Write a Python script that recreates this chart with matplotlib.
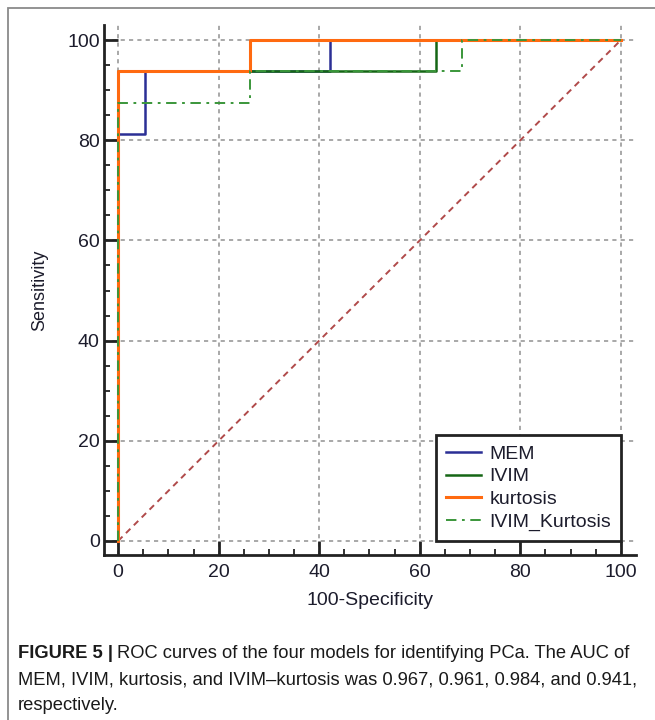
import numpy as np
from matplotlib import pyplot as plt
from matplotlib.patches import Rectangle

# ROC curve vertices (100-Specificity, Sensitivity)
mem_fpr = [0, 0, 5.26, 5.26, 42.1, 42.1, 100]
mem_tpr = [0, 81.25, 81.25, 93.75, 93.75, 100, 100]

ivim_fpr = [0, 0, 63.2, 63.2, 100]
ivim_tpr = [0, 93.75, 93.75, 100, 100]

kurt_fpr = [0, 0, 26.3, 26.3, 100]
kurt_tpr = [0, 93.75, 93.75, 100, 100]

ivk_fpr = [0, 0, 26.3, 26.3, 68.4, 68.4, 100]
ivk_tpr = [0, 87.5, 87.5, 93.75, 93.75, 100, 100]

ref_x = [0, 100]
ref_y = [0, 100]

ticks = [0, 20, 40, 60, 80, 100]
labels = ['MEM', 'IVIM', 'kurtosis', 'IVIM_Kurtosis']

plt.rcParams['font.family'] = ['Liberation Sans', 'DejaVu Sans']
plt.rcParams['lines.scale_dashes'] = False

fig = plt.figure(figsize=(6.55, 7.2), dpi=100)

# outer frame (only top/left visible)
fig.patches.append(Rectangle((8 / 655, -0.1), 1.2, (720 - 8) / 720 + 0.1,
                             transform=fig.transFigure, fill=False,
                             edgecolor='#8a8a8a', linewidth=1.3))

ax = fig.add_axes([104 / 655, 1 - 555 / 720, (636 - 104) / 655, (555 - 25) / 720])
ax.set_xlim(-2.8, 103)
ax.set_ylim(-2.8, 103)

for s in ['top', 'right']:
    ax.spines[s].set_visible(False)
for s in ['left', 'bottom']:
    ax.spines[s].set_linewidth(2)
    ax.spines[s].set_color('#222222')

ax.set_xticks(ticks)
ax.set_yticks(ticks)
ax.set_xticks(np.arange(0, 101, 5), minor=True)
ax.set_yticks(np.arange(0, 101, 5), minor=True)
ax.tick_params(which='major', direction='in', length=10.1, width=2, color='#222222',
               labelsize=14, labelcolor='#1c1c2c')
ax.tick_params(which='minor', direction='in', length=4, width=1.3, color='#222222')
ax.tick_params(axis='y', which='major', pad=3)
ax.tick_params(axis='x', which='major', pad=6.5)

ax.grid(True, which='major', color='#9a9a9a', linestyle=(0, (3, 3)), linewidth=1.2, zorder=0)
ax.set_axisbelow(True)

ax.plot(ref_x, ref_y, color='#b04a4a', linewidth=1.4, linestyle=(0, (4.5, 3.5)), zorder=2)
ax.plot(mem_fpr, mem_tpr, color='#2b2f95', linewidth=1.8, label=labels[0], zorder=3)
ax.plot(ivim_fpr, ivim_tpr, color='#156615', linewidth=1.8, label=labels[1], zorder=3)
ax.plot(kurt_fpr, kurt_tpr, color='#ff6a10', linewidth=2.2, label=labels[2], zorder=4)
ax.plot(ivk_fpr, ivk_tpr, color='#3a963a', linewidth=1.4,
        linestyle=(0, (7.5, 4, 2, 4)), label=labels[3], zorder=5)

ax.set_xlabel('100-Specificity', fontsize=14, color='#1c1c2c', labelpad=8)
ax.set_ylabel('Sensitivity', fontsize=13, color='#1c1c2c', labelpad=14)

leg = ax.legend(loc='lower right', bbox_to_anchor=(1 - 15 / 532, 14 / 530),
                fontsize=14, frameon=True, fancybox=False, borderpad=0.5,
                handlelength=1.8, handletextpad=0.45, labelspacing=0.27,
                borderaxespad=0)
leg.get_frame().set_edgecolor('#222222')
leg.get_frame().set_linewidth(2)
leg.get_frame().set_alpha(1)
for t in leg.get_texts():
    t.set_color('#1c1c2c')

# caption
renderer = fig.canvas.get_renderer()
cap_size = 13.2
y1 = 1 - 653 / 720
bold = fig.text(18 / 655, y1, 'FIGURE 5 |', fontsize=cap_size, fontweight='bold',
                va='center', color='#1a1a1a')
bb = bold.get_window_extent(renderer=renderer)
fig.text((bb.x1 + 4) / 655, y1, 'ROC curves of the four models for identifying PCa. The AUC of',
         fontsize=cap_size, va='center', color='#1a1a1a')
fig.text(18 / 655, 1 - 680 / 720,
         'MEM, IVIM, kurtosis, and IVIM\u2013kurtosis was 0.967, 0.961, 0.984, and 0.941,',
         fontsize=cap_size, va='center', color='#1a1a1a')
fig.text(18 / 655, 1 - 706 / 720, 'respectively.', fontsize=cap_size, va='center',
         color='#1a1a1a')

fig.savefig('out.png', dpi=100)
